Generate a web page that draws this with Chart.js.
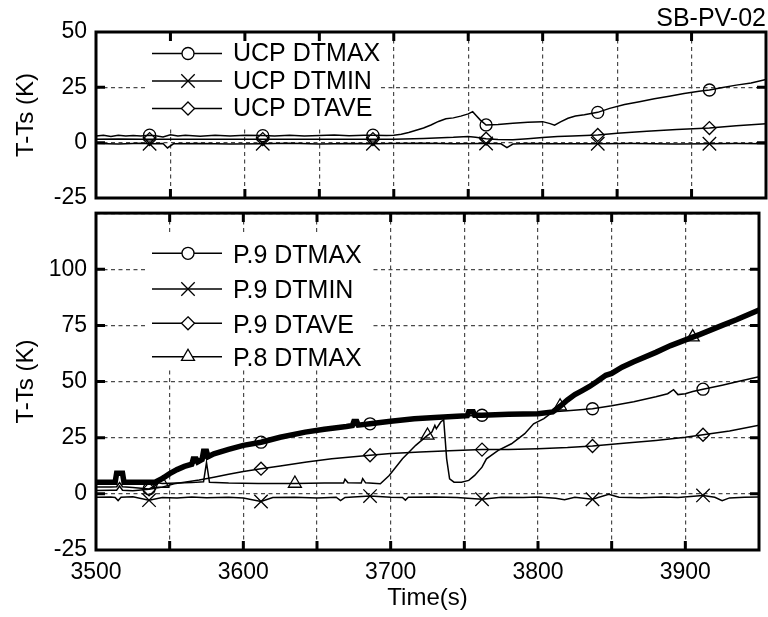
<!DOCTYPE html>
<html>
<head>
<meta charset="utf-8">
<script src="https://cdn.jsdelivr.net/npm/chart.js@4/dist/chart.umd.min.js"></script>
<style>
  html, body { margin: 0; padding: 0; background: #fff; }
  #wrap { position: relative; width: 768px; height: 617px; overflow: hidden; }
  canvas { position: absolute; left: 0; }
  #topChart { top: 0; }
  #botChart { top: 204px; }
</style>
</head>
<body>
<div id="wrap">
  <canvas id="topChart" width="768" height="210" style="width:768px;height:210px"></canvas>
  <canvas id="botChart" width="768" height="415" style="width:768px;height:415px"></canvas>
</div>
<script>
// ---- Upper plenum (UCP) temperature differences ----
const markTimes = [3536, 3612, 3686, 3762, 3837, 3912];
const p8MarkTimes = [3545, 3635, 3725, 3815, 3905];

const ucpMaxT = [3500,3505,3510,3515,3520,3525,3530,3536,3540,3545,3550,3555,3560,3570,3580,3590,3600,3612,3620,3630,3640,3650,3660,3670,3680,3686,3695,3700,3705,3710,3715,3720,3725,3730,3735,3740,3745,3750,3753,3755,3758,3762,3770,3780,3790,3800,3805,3808,3812,3817,3822,3828,3837,3845,3855,3865,3875,3885,3895,3905,3912,3920,3930,3940,3950];
const ucpMaxV = [3.0,3.3,2.8,3.4,3.0,3.2,3.0,3.4,3.1,2.6,3.6,3.0,3.3,2.9,3.4,3.0,3.3,3.2,3.0,3.4,3.0,3.2,3.5,3.1,3.3,3.4,3.2,3.4,3.8,4.6,5.6,6.6,8.0,9.6,10.8,11.2,12.0,13.0,14.0,12.5,10.3,8.0,8.2,8.8,9.2,9.5,8.6,7.9,9.4,11.0,12.0,12.6,13.7,15.5,17.2,18.5,19.8,21.0,22.2,23.2,23.8,24.8,26.0,27.0,28.6];

const ucpAveT = [3500,3515,3530,3536,3550,3570,3590,3612,3630,3650,3670,3686,3700,3720,3740,3750,3755,3762,3770,3780,3790,3800,3810,3820,3837,3850,3870,3890,3912,3930,3950];
const ucpAveV = [1.5,1.7,1.5,1.6,1.5,1.6,1.5,1.6,1.5,1.6,1.5,1.6,1.5,1.9,2.4,2.8,2.4,1.8,1.4,1.3,1.8,2.3,2.8,3.0,3.5,4.2,5.2,6.0,6.6,7.6,8.6];

const ucpMinT = [3500,3515,3530,3536,3545,3548,3552,3570,3590,3612,3630,3650,3670,3686,3700,3720,3740,3762,3772,3776,3780,3790,3810,3837,3860,3890,3912,3930,3950];
const ucpMinV = [-0.4,-0.6,-0.3,-0.5,-0.4,-2.4,-0.5,-0.4,-0.6,-0.5,-0.3,-0.6,-0.4,-0.5,-0.4,-0.3,-0.5,-0.4,-0.5,-2.2,-0.6,-0.4,-0.5,-0.5,-0.4,-0.6,-0.5,-0.4,-0.5];

// ---- Elevation P.9 / P.8 temperature differences ----
const p9MaxT = [3500,3510,3514,3516,3518,3525,3536,3540,3545,3550,3555,3560,3565,3570,3575,3580,3590,3600,3612,3625,3642,3655,3670,3686,3700,3716,3730,3745,3762,3780,3800,3810,3820,3837,3850,3865,3880,3888,3892,3895,3900,3905,3912,3925,3935,3950];
const p9MaxV = [3.0,3.0,3.2,5.0,3.2,2.8,2.2,3.5,6.8,9.0,10.8,12.2,13.2,14.6,16.2,17.8,19.8,21.6,23.0,25.2,27.5,28.8,30.0,31.2,32.3,33.4,34.0,34.6,35.0,35.4,35.7,36.5,37.0,37.9,39.2,41.0,43.2,44.6,46.4,44.2,44.6,45.6,46.6,48.4,49.9,52.1];

const p9MinT = [3500,3510,3513,3515,3517,3525,3536,3545,3555,3565,3575,3590,3600,3612,3620,3635,3650,3663,3666,3669,3686,3700,3708,3710,3712,3730,3745,3762,3775,3790,3800,3812,3818,3825,3837,3848,3855,3870,3885,3895,3912,3920,3925,3930,3940,3950];
const p9MinV = [-1.5,-1.4,-1.6,-3.0,-1.5,-1.3,-2.8,-1.6,-1.8,-1.4,-1.7,-1.5,-1.9,-3.4,-1.6,-1.5,-1.8,-1.5,-3.0,-1.6,-1.0,-1.5,-1.6,-2.8,-1.5,-1.4,-1.6,-2.4,-1.5,-1.6,-1.4,-2.0,-2.6,-1.5,-2.4,-0.2,-1.5,-1.7,-1.4,-1.6,-0.7,-1.5,-3.0,-1.8,-1.5,-1.4];

const p9AveT = [3500,3510,3514,3516,3518,3525,3536,3545,3553,3560,3570,3580,3590,3600,3612,3625,3643,3660,3686,3700,3720,3740,3762,3780,3800,3820,3837,3860,3880,3900,3912,3930,3950];
const p9AveV = [1.5,1.6,1.6,3.5,1.6,1.4,2.0,3.0,4.5,5.2,6.2,7.4,8.7,10.0,11.2,12.4,14.2,15.6,17.2,18.0,18.6,19.2,19.7,19.8,20.1,20.6,21.3,22.6,23.8,25.2,26.3,28.0,30.5];

const p8MaxT = [3500,3513,3514,3518,3519,3540,3545,3555,3565,3573,3575,3577,3590,3610,3635,3655,3668,3669,3671,3680,3681,3683,3693,3699,3708,3717,3725,3728,3730,3731,3734,3736,3738,3740,3743,3748,3753,3757,3762,3765,3773,3782,3791,3797,3804,3810,3815,3820,3825,3830,3835,3840,3846,3850,3857,3865,3880,3890,3905,3910,3925,3935,3950];
const p8MaxV = [5.2,5.2,9.0,9.0,5.2,5.2,4.6,4.8,5.0,5.4,14.0,5.2,4.8,4.6,4.6,4.8,4.8,6.5,4.9,4.8,6.8,4.9,4.5,8.2,15.6,21.6,26.0,27.5,30.5,29.0,32.0,33.0,15.6,6.7,5.2,5.2,6.0,8.2,11.9,15.6,19.4,22.3,26.8,31.2,33.5,36.5,39.0,41.8,44.2,46.0,47.8,50.0,52.8,53.6,56.4,58.8,63.0,66.0,69.8,71.0,75.0,77.6,81.9];

// Upper envelope of the P.9 / P.8 maxima, drawn as a heavy line
const envT = [3500,3513,3514,3518,3519,3540,3545,3550,3555,3560,3565,3566,3568,3569,3572,3573,3575,3576,3580,3590,3600,3612,3625,3642,3655,3670,3674,3675,3677,3678,3686,3700,3716,3730,3745,3752,3753,3756,3757,3762,3780,3800,3810,3815,3820,3825,3830,3835,3840,3846,3850,3857,3865,3880,3890,3905,3910,3925,3935,3950];
const envV = [5.2,5.2,9.2,9.2,5.2,5.2,6.8,9.0,10.8,12.2,13.2,15.5,15.5,14.2,15.3,19.0,19.0,16.5,17.8,19.8,21.6,23.0,25.2,27.5,28.8,30.0,30.4,32.2,32.2,30.6,31.2,32.3,33.4,34.0,34.6,34.8,36.6,36.6,35.0,35.0,35.4,35.7,36.5,39.0,41.8,44.2,46.0,47.8,50.0,52.8,53.6,56.4,58.8,63.0,66.0,69.8,71.0,75.0,77.6,81.9];

const FONT = "'Liberation Sans', Arial, Helvetica, sans-serif";
const GRID = '#4a4a4a';
const X_MIN = 3500, X_MAX = 3950;
Chart.defaults.font.family = FONT;
Chart.defaults.color = '#000';

function toPoints(T, V) { return T.map((t, i) => ({ x: t, y: V[i] })); }

function markRadius(times, r) {
  return ctx => (ctx.parsed && times.includes(ctx.parsed.x)) ? r : 0;
}

function lineSet(label, T, V, style, r, times) {
  return {
    label, data: toPoints(T, V),
    borderColor: '#000', borderWidth: 1.5, tension: 0, fill: false,
    pointStyle: style, pointRadius: markRadius(times, r),
    pointHoverRadius: 0, pointHitRadius: 0,
    pointBorderColor: '#000', pointBackgroundColor: 'rgba(0,0,0,0)', pointBorderWidth: 1.3,
    markerSize: r
  };
}

// Marker shapes for the legend samples (white filled so the sample line stops at the symbol)
function drawMarker(ctx, style, x, y, r) {
  ctx.beginPath();
  if (style === 'circle') {
    ctx.arc(x, y, r, 0, Math.PI * 2);
  } else if (style === 'rectRot') {
    ctx.moveTo(x, y - r); ctx.lineTo(x + r, y); ctx.lineTo(x, y + r); ctx.lineTo(x - r, y); ctx.closePath();
  } else if (style === 'triangle') {
    const a = Math.PI * 2 / 3;
    ctx.moveTo(x, y - r);
    ctx.lineTo(x + Math.sin(a) * r, y - Math.cos(a) * r);
    ctx.lineTo(x + Math.sin(2 * a) * r, y - Math.cos(2 * a) * r);
    ctx.closePath();
  } else if (style === 'crossRot') {
    const d = r * Math.SQRT1_2;
    ctx.moveTo(x - d, y - d); ctx.lineTo(x + d, y + d);
    ctx.moveTo(x + d, y - d); ctx.lineTo(x - d, y + d);
    ctx.stroke();
    return;
  }
  ctx.fillStyle = '#fff';
  ctx.fill();
  ctx.stroke();
}

const sampleLegend = {
  id: 'sampleLegend',
  beforeDatasetsDraw(chart, args, o) {
    const { ctx } = chart;
    ctx.save();
    ctx.fillStyle = '#fff';
    ctx.fillRect(o.box[0], o.box[1], o.box[2], o.box[3]);
    const items = chart.data.datasets.filter(d => d.label);
    items.forEach((d, i) => {
      const y = o.rows[i];
      ctx.strokeStyle = '#000';
      ctx.lineWidth = 1.5;
      ctx.beginPath();
      ctx.moveTo(o.x0, y); ctx.lineTo(o.x1, y);
      ctx.stroke();
      ctx.lineWidth = 1.3;
      drawMarker(ctx, d.pointStyle, o.xm, y, d.markerSize);
      ctx.fillStyle = '#000';
      ctx.font = '25px ' + FONT;
      ctx.textAlign = 'left';
      ctx.textBaseline = 'middle';
      ctx.fillText(d.label, o.xt, y + o.dy);
    });
    ctx.restore();
  }
};

// Heavy frame around the plot area with inward tick marks on all four sides
const frameTicks = {
  id: 'frameTicks',
  afterDraw(chart) {
    const { ctx, chartArea: a, scales } = chart;
    const L = 9;
    ctx.save();
    ctx.strokeStyle = '#000';
    ctx.lineWidth = 3;
    ctx.beginPath();
    scales.x.ticks.forEach(t => {
      const px = scales.x.getPixelForValue(t.value);
      if (px <= a.left + 1 || px >= a.right - 1) return;
      ctx.moveTo(px, a.top); ctx.lineTo(px, a.top + L);
      ctx.moveTo(px, a.bottom); ctx.lineTo(px, a.bottom - L);
    });
    scales.y.ticks.forEach(t => {
      const py = scales.y.getPixelForValue(t.value);
      if (py <= a.top + 1 || py >= a.bottom - 1) return;
      ctx.moveTo(a.left, py); ctx.lineTo(a.left + L, py);
      ctx.moveTo(a.right, py); ctx.lineTo(a.right - L, py);
    });
    ctx.stroke();
    ctx.strokeRect(a.left, a.top, a.right - a.left, a.bottom - a.top);
    ctx.restore();
  }
};

function xAxis(showLabels, height) {
  return {
    type: 'linear', min: X_MIN, max: X_MAX,
    afterFit: s => { s.height = height; },
    ticks: {
      stepSize: 50, display: showLabels, padding: 9,
      font: { size: 23 }, maxRotation: 0, autoSkip: false,
      callback: v => (Math.round(v) % 100 === 0 && v < X_MAX ? String(Math.round(v)) : '')
    },
    grid: { color: GRID, lineWidth: 1.2, drawTicks: false },
    border: { display: false, dash: [4, 3.5] },
    title: showLabels
      ? { display: true, text: 'Time(s)', font: { size: 24 }, padding: { top: 0, bottom: 6.6 } }
      : { display: false }
  };
}

function yAxis(min, max, hideTop) {
  return {
    type: 'linear', min, max,
    afterFit: s => { s.width = 96; },
    ticks: {
      stepSize: 25, padding: 9, font: { size: 23, lineHeight: 0.01 },
      callback: v => (hideTop && v === max) ? '' : String(v)
    },
    grid: { color: GRID, lineWidth: 1.2, drawTicks: false },
    border: { display: false, dash: [4, 3.5] },
    title: { display: true, text: 'T-Ts (K)', font: { size: 24 }, padding: { top: 12, bottom: 0 } }
  };
}

new Chart(document.getElementById('topChart'), {
  type: 'line',
  data: {
    datasets: [
      lineSet('UCP DTMAX', ucpMaxT, ucpMaxV, 'circle', 6, markTimes),
      lineSet('UCP DTMIN', ucpMinT, ucpMinV, 'crossRot', 9.5, markTimes),
      lineSet('UCP DTAVE', ucpAveT, ucpAveV, 'rectRot', 6.5, markTimes)
    ]
  },
  options: {
    responsive: false, animation: false, devicePixelRatio: 1,
    layout: { padding: { top: 0, right: 2, left: 0, bottom: 0 } },
    scales: { x: xAxis(false, 12), y: yAxis(-25, 50, false) },
    plugins: {
      legend: { display: false },
      tooltip: { enabled: false },
      title: {
        display: true, text: 'SB-PV-02', align: 'end', color: '#000',
        font: { size: 25, weight: 'normal', lineHeight: 1 },
        padding: { top: 6.5, bottom: 0.5 }
      },
      sampleLegend: {
        box: [148, 36, 232, 92], rows: [53.5, 81, 108.5],
        x0: 152, x1: 222, xm: 188, xt: 233, dy: 1
      }
    }
  },
  plugins: [sampleLegend, frameTicks]
});

new Chart(document.getElementById('botChart'), {
  type: 'line',
  data: {
    datasets: [
      lineSet('P.9 DTMAX', p9MaxT, p9MaxV, 'circle', 6, markTimes),
      lineSet('P.9 DTMIN', p9MinT, p9MinV, 'crossRot', 9.5, markTimes),
      lineSet('P.9 DTAVE', p9AveT, p9AveV, 'rectRot', 6.5, markTimes),
      lineSet('P.8 DTMAX', p8MaxT, p8MaxV, 'triangle', 7.5, p8MarkTimes),
      {
        label: '', data: toPoints(envT, envV),
        borderColor: '#000', borderWidth: 5.5, tension: 0, fill: false,
        pointRadius: 0, pointHoverRadius: 0, pointHitRadius: 0
      }
    ]
  },
  options: {
    responsive: false, animation: false, devicePixelRatio: 1,
    layout: { padding: { top: 1.5, right: 2, left: 0, bottom: 0 } },
    scales: { x: xAxis(true, 69), y: yAxis(-25, 125, true) },
    plugins: {
      legend: { display: false },
      tooltip: { enabled: false },
      sampleLegend: {
        box: [148, 29, 222, 134], rows: [49.3, 85, 119.3, 152.7],
        x0: 152, x1: 222, xm: 188, xt: 233, dy: 2.5
      }
    }
  },
  plugins: [sampleLegend, frameTicks]
});
</script>
</body>
</html>
